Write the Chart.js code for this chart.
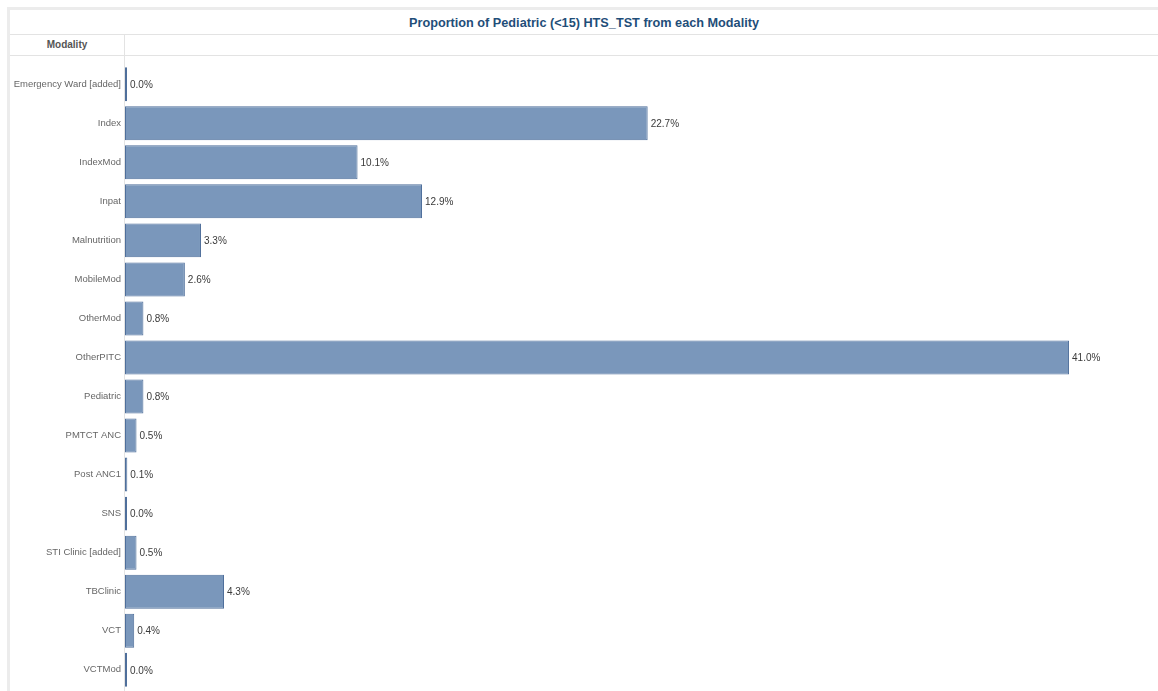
<!DOCTYPE html>
<html>
<head>
<meta charset="utf-8">
<script src="https://cdn.jsdelivr.net/npm/chart.js@4"></script>
<style>
  html, body { margin: 0; padding: 0; background: #fff; }
  body { width: 1158px; height: 691px; position: relative; overflow: hidden; font-family: "Liberation Sans", Arial, sans-serif; }
  #frameTop { position: absolute; left: 7px; top: 7px; width: 1151px; height: 3px; background: #ececec; }
  #frameLeft { position: absolute; left: 7px; top: 7px; width: 3px; height: 684px; background: #ececec; }
  #title { position: absolute; left: 10px; top: 11px; width: 1148px; height: 24px; line-height: 24px; text-align: center;
           font-size: 12.7px; font-weight: bold; color: #1f4e79; }
  .hline { position: absolute; left: 10px; width: 1148px; height: 1px; background: #e3e3e3; }
  #vline { position: absolute; left: 124px; top: 34px; width: 1px; height: 657px; background: #e3e3e3; }
  #header { position: absolute; left: 10px; top: 35px; width: 114px; height: 20px; line-height: 20px; text-align: center;
            font-size: 10px; font-weight: bold; color: #555; }
  #wrap { position: absolute; left: 0; top: 55px; width: 1158px; height: 644px; }
</style>
</head>
<body>
<div id="frameTop"></div>
<div id="frameLeft"></div>
<div id="title">Proportion of Pediatric (&lt;15) HTS_TST from each Modality</div>
<div class="hline" style="top:34px"></div>
<div class="hline" style="top:55px"></div>
<div id="vline"></div>
<div id="header">Modality</div>
<div id="wrap"><canvas id="chart"></canvas></div>
<script>
// Modalities and their share (%) of pediatric HTS_TST
const modalities = [
    "Emergency Ward [added]", "Index", "IndexMod", "Inpat", "Malnutrition", "MobileMod",
    "OtherMod", "OtherPITC", "Pediatric", "PMTCT ANC", "Post ANC1", "SNS",
    "STI Clinic [added]", "TBClinic", "VCT", "VCTMod"
];
const proportions = [0.0, 22.7, 10.1, 12.9, 3.3, 2.6, 0.8, 41.0, 0.8, 0.5, 0.1, 0.0, 0.5, 4.3, 0.4, 0.0];

// Draw the value text at the end of each bar
const valueLabels = {
    id: 'valueLabels',
    afterDatasetsDraw(chart) {
        const ctx = chart.ctx;
        const meta = chart.getDatasetMeta(0);
        ctx.save();
        ctx.font = '10px "Liberation Sans", Arial, sans-serif';
        ctx.fillStyle = '#3a3a3a';
        ctx.textAlign = 'left';
        ctx.textBaseline = 'middle';
        meta.data.forEach((bar, i) => {
            const end = Math.max(bar.x, bar.base + 2);
            ctx.fillText(proportions[i].toFixed(1) + '%', end + 3, bar.y + 1);
        });
        ctx.restore();
    }
};

const ctx = document.getElementById('chart').getContext('2d');
new Chart(ctx, {
    type: 'bar',
    data: {
        labels: modalities,
        datasets: [{
            data: proportions,
            backgroundColor: '#7a97bb',
            borderColor: '#4f6f9b',
            borderWidth: 1,
            borderSkipped: false,
            minBarLength: 2,
            categoryPercentage: 1,
            barPercentage: 0.87
        }]
    },
    options: {
        indexAxis: 'y',
        responsive: true,
        maintainAspectRatio: false,
        animation: false,
        layout: { padding: { top: 9.5, bottom: 3.5, left: 0, right: 4 } },
        plugins: {
            legend: { display: false },
            tooltip: { enabled: false }
        },
        scales: {
            x: {
                display: false,
                min: 0,
                max: 44.69
            },
            y: {
                afterFit(scale) { scale.width = 125; },
                grid: { display: false, drawTicks: false },
                border: { display: false },
                ticks: {
                    padding: 4,
                    color: '#666',
                    font: { family: '"Liberation Sans", Arial, sans-serif', size: 9.5 }
                }
            }
        }
    },
    plugins: [valueLabels]
});
</script>
</body>
</html>
